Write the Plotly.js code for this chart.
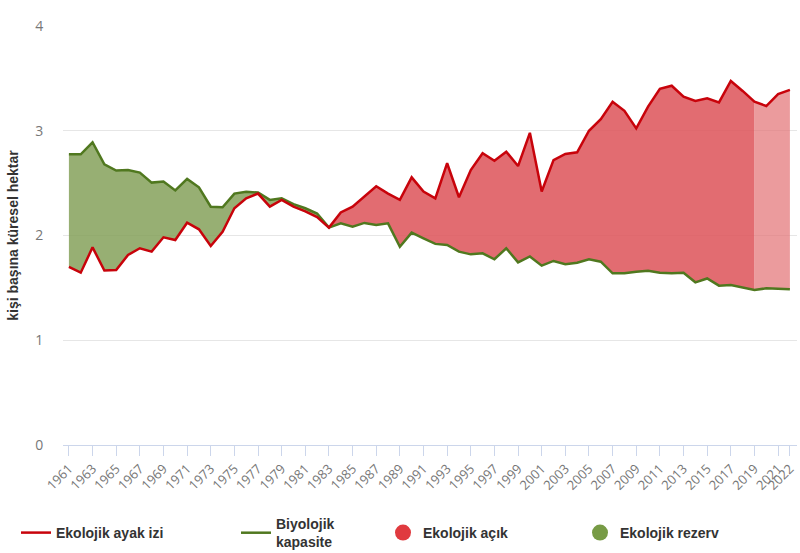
<!DOCTYPE html>
<html>
<head>
<meta charset="utf-8">
<script src="https://cdn.plot.ly/plotly-3.0.1.min.js"></script>
<style>html,body{margin:0;padding:0;background:#fff;}#chart{width:800px;height:553px;}</style>
</head>
<body>
<div id="chart"></div>
<script>
// ---- Data ----
const years = [1961,1962,1963,1964,1965,1966,1967,1968,1969,1970,
  1971,1972,1973,1974,1975,1976,1977,1978,1979,1980,
  1981,1982,1983,1984,1985,1986,1987,1988,1989,1990,
  1991,1992,1993,1994,1995,1996,1997,1998,1999,2000,
  2001,2002,2003,2004,2005,2006,2007,2008,2009,2010,
  2011,2012,2013,2014,2015,2016,2017,2018,2019,2020,
  2021,2022];

const footprint = [1.70,1.645,1.887,1.665,1.67,1.814,1.878,1.846,1.983,1.957,
  2.122,2.059,1.90,2.036,2.26,2.355,2.40,2.275,2.34,2.275,
  2.23,2.175,2.075,2.22,2.275,2.37,2.47,2.40,2.34,2.555,
  2.42,2.355,2.69,2.365,2.625,2.785,2.714,2.80,2.663,2.98,
  2.42,2.72,2.778,2.794,3.0,3.11,3.277,3.19,3.023,3.23,
  3.40,3.43,3.325,3.284,3.31,3.27,3.475,3.38,3.277,3.236,
  3.35,3.39];

const biocapacity = [2.775,2.775,2.89,2.68,2.62,2.625,2.60,2.505,2.515,2.43,
  2.54,2.46,2.275,2.27,2.40,2.418,2.41,2.34,2.355,2.30,
  2.26,2.21,2.075,2.116,2.085,2.12,2.10,2.116,1.893,2.027,
  1.973,1.92,1.91,1.846,1.82,1.83,1.773,1.878,1.744,1.80,
  1.712,1.757,1.725,1.74,1.773,1.75,1.639,1.639,1.655,1.664,
  1.645,1.639,1.645,1.553,1.59,1.521,1.527,1.502,1.48,1.496,
  1.49,1.486];

const seriesNames = ['Ekolojik ayak izi', 'Biyolojik<br>kapasite', 'Ekolojik açık', 'Ekolojik rezerv'];
const yTicks = [0, 1, 2, 3, 4];
const estimateStartYear = 2019;

// ---- Styles ----
const C = {
  fpLine: '#c8030b',
  bcLine: '#50781f',
  deficit: 'rgba(222,88,93,0.88)',
  deficitLight: 'rgba(226,112,116,0.70)',
  reserve: 'rgba(128,158,84,0.82)',
  reserveLight: 'rgba(128,158,84,0.55)',
  legDeficit: '#e03a3f',
  legReserve: '#779b45'
};

// ---- Build fill polygons between the two series ----
function fillPieces(a, b, colPos, colNeg) {
  const pts = [];
  for (let i = a; i <= b; i++) {
    if (i > a) {
      const d0 = footprint[i-1] - biocapacity[i-1];
      const d1 = footprint[i] - biocapacity[i];
      if (d0 * d1 < 0) {
        const t = d0 / (d0 - d1);
        const x = years[i-1] + t * (years[i] - years[i-1]);
        const y = footprint[i-1] + t * (footprint[i] - footprint[i-1]);
        pts.push({x: x, f: y, c: y, cross: true});
      }
    }
    pts.push({x: years[i], f: footprint[i], c: biocapacity[i], cross: footprint[i] === biocapacity[i]});
  }
  const traces = [];
  let run = [pts[0]];
  const flush = () => {
    if (run.length < 2) return;
    let s = 0; run.forEach(p => s += p.f - p.c);
    const xs = run.map(p => p.x).concat(run.slice().reverse().map(p => p.x));
    const ys = run.map(p => p.f).concat(run.slice().reverse().map(p => p.c));
    traces.push({
      x: xs, y: ys, type: 'scatter', mode: 'lines', fill: 'toself',
      fillcolor: s >= 0 ? colPos : colNeg, line: {width: 0},
      hoverinfo: 'skip', showlegend: false
    });
  };
  for (let k = 1; k < pts.length; k++) {
    run.push(pts[k]);
    if (pts[k].cross) { flush(); run = [pts[k]]; }
  }
  flush();
  return traces;
}

const splitIdx = years.indexOf(estimateStartYear);
const last = years.length - 1;
let traces = [];
traces = traces.concat(fillPieces(0, splitIdx, C.deficit, C.reserve));
traces = traces.concat(fillPieces(splitIdx, last, C.deficitLight, C.reserveLight));

traces.push({
  x: years, y: biocapacity, type: 'scatter', mode: 'lines', name: seriesNames[1],
  line: {color: C.bcLine, width: 2.5}, legend: 'legend2', hoverinfo: 'skip'
});
traces.push({
  x: years, y: footprint, type: 'scatter', mode: 'lines', name: seriesNames[0],
  line: {color: C.fpLine, width: 2.5}, legend: 'legend', hoverinfo: 'skip'
});
traces.push({
  x: [null], y: [null], type: 'scatter', mode: 'markers', name: seriesNames[2],
  marker: {color: C.legDeficit, size: 16, symbol: 'circle'}, legend: 'legend3'
});
traces.push({
  x: [null], y: [null], type: 'scatter', mode: 'markers', name: seriesNames[3],
  marker: {color: C.legReserve, size: 16, symbol: 'circle'}, legend: 'legend4'
});

const xTickVals = years.filter(y => (y - years[0]) % 2 === 0 || y === years[last]);
const legFont = {family: 'Liberation Sans, Arial, sans-serif', size: 14, color: '#333', weight: 'bold'};
const legBase = {
  orientation: 'h', xref: 'container', yref: 'container', yanchor: 'middle',
  xanchor: 'left', y: 20/553, font: legFont, bgcolor: 'rgba(0,0,0,0)', borderwidth: 0
};

const layout = {
  width: 800, height: 553,
  margin: {l: 63, r: 3, t: 26, b: 108},
  paper_bgcolor: '#fff', plot_bgcolor: '#fff',
  font: {family: 'Open Sans, sans-serif', color: '#666'},
  xaxis: {
    range: [1960.5, 2022.6], tickmode: 'array', tickvals: xTickVals,
    ticktext: xTickVals.map(String), tickangle: -45,
    ticks: 'outside', ticklen: 10, tickcolor: '#ccd6eb', tickwidth: 1,
    showline: true, linecolor: '#ccd6eb', linewidth: 1,
    showgrid: false, zeroline: false,
    tickfont: {family: 'Open Sans, sans-serif', size: 13, color: '#777'}
  },
  yaxis: {
    range: [0, 4], tickmode: 'array', tickvals: yTicks,
    gridcolor: '#e6e6e6', gridwidth: 1, zeroline: false, showline: false,
    ticks: 'outside', ticklen: 16, tickcolor: 'rgba(0,0,0,0)',
    tickfont: {family: 'Open Sans, sans-serif', size: 14, color: '#777'},
    title: {text: '<b>kişi başına küresel hektar</b>', font: {family: 'Liberation Sans, Arial, sans-serif', size: 14, color: '#333'}, standoff: 13}
  },
  legend: Object.assign({}, legBase, {x: 16/800}),
  legend2: Object.assign({}, legBase, {x: 236/800}),
  legend3: Object.assign({}, legBase, {x: 383/800}),
  legend4: Object.assign({}, legBase, {x: 580/800}),
  showlegend: true,
  hovermode: false
};

Plotly.newPlot('chart', traces, layout, {displayModeBar: false, staticPlot: true});
</script>
</body>
</html>
